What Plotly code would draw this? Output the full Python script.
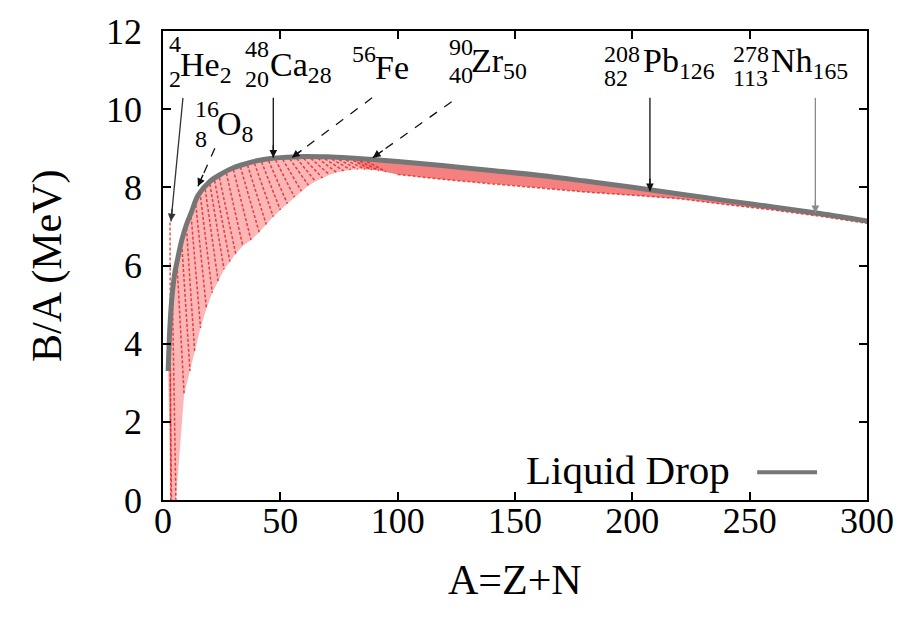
import plotly.graph_objects as go
import math

# ---------------- data ----------------
# Liquid-drop B/A curve (grey)
curve_A = [2.2, 3, 4, 5, 6, 8, 10, 12, 15, 20, 25, 30, 35, 40, 45, 50, 60, 70, 80, 90,
           100, 120, 140, 160, 180, 200, 220, 240, 260, 280, 300]
curve_B = [3.3, 4.5, 5.3, 5.8, 6.1, 6.65, 7.05, 7.35, 7.8, 8.15, 8.35, 8.5, 8.6, 8.68, 8.73, 8.76,
           8.79, 8.78, 8.75, 8.71, 8.66, 8.55, 8.43, 8.31, 8.16, 8.0, 7.83, 7.66, 7.5, 7.33, 7.14]

# red isotopic chains (start near the curve, end at the lower edge of the fan)
chain_A_top = [3, 3, 4, 6, 8, 10, 12, 14, 16, 18, 20, 22, 24, 27, 30, 33, 36, 39, 42, 45, 48,
               51, 54, 57, 60, 63, 66, 69, 72, 75, 78, 81, 84, 87]
chain_B_top = [7.1, 3.6, 5.3, 6.0, 6.55, 6.95, 7.25, 7.55, 7.75, 7.95, 8.08, 8.17, 8.25, 8.36,
               8.45, 8.52, 8.57, 8.61, 8.65, 8.68, 8.7, 8.72, 8.73, 8.74, 8.74, 8.74, 8.74,
               8.73, 8.72, 8.71, 8.7, 8.69, 8.67, 8.66]
chain_A_bot = [3.3, 3.6, 5.5, 9, 11.5, 13.5, 16, 18.5, 21, 23.5, 26, 28.5, 31, 34, 37.5, 41, 44,
               47, 50, 53, 56, 59, 62, 65, 68, 71, 74, 77, 80, 83, 86, 89, 92, 95]
chain_B_bot = [0.0, 0.0, 0.0, 2.7, 3.3, 3.8, 4.4, 4.9, 5.3, 5.6, 5.9, 6.1, 6.3, 6.5, 6.65, 6.85,
               7.05, 7.25, 7.42, 7.58, 7.75, 7.9, 8.05, 8.15, 8.24, 8.32, 8.38, 8.42, 8.45,
               8.46, 8.46, 8.45, 8.43, 8.4]

# lower edge of the dense red band for heavier nuclei
band_A = [100, 120, 140, 160, 180, 200, 220, 240, 260, 280, 300]
band_B = [8.33, 8.2, 8.09, 7.99, 7.88, 7.8, 7.71, 7.56, 7.42, 7.26, 7.08]

# labelled nuclei
nuc_el = ["He", "O", "Ca", "Fe", "Zr", "Pb", "Nh"]
nuc_mass = ["4", "16", "48", "56", "90", "208", "278"]
nuc_Z = ["2", "8", "20", "", "40", "82", "113"]
nuc_N = ["2", "8", "28", "", "50", "126", "165"]
arrow_tail_A = [8.5, 22.1, 47, 89.1, 123.0, 207.5, 278]
arrow_tail_B = [10.29, 9.0, 10.29, 10.29, 10.19, 10.29, 10.29]
arrow_tip_A = [3.4, 14.9, 47, 54.9, 89.4, 207.5, 278]
arrow_tip_B = [7.13, 8.03, 8.76, 8.76, 8.76, 7.90, 7.34]
arrow_dash = ["solid", "dash", "solid", "dash", "dash", "solid", "solid"]
arrow_color = ["#333333", "#111111", "#111111", "#111111", "#111111", "#111111", "#8a8a8a"]

x_ticks = [0, 50, 100, 150, 200, 250, 300]
y_ticks = [0, 2, 4, 6, 8, 10, 12]

# label placement (data coordinates)
lab_x_pre = [1.7, 12.8, 34.0, 79.6, 120.9, 187.2, 242.1]
lab_x_el = [6.4, 22.1, 44.7, 89.4, 130.6, 203.8, 258.3]
lab_y_sup = [11.59, 9.94, 11.46, 11.34, 11.52, 11.34, 11.34]
lab_y_sub = [10.75, 9.22, 10.75, 10.75, 10.85, 10.78, 10.78]
lab_y_el = [10.89, 9.40, 10.89, 10.96, 11.0, 10.99, 10.99]

FONT = "Liberation Serif"
W, H = 921, 617
ML, MR, MT, MB = 163, 54, 29, 117
PW, PH = W - ML - MR, H - MT - MB
SX, SY = PW / 300.0, PH / 12.0

fig = go.Figure()

# red region: fan at low A plus thin band at high A (single polygon)
lower_x = chain_A_bot + band_A
lower_y = chain_B_bot + band_B
poly_x = list(curve_A) + lower_x[::-1]
poly_y = list(curve_B) + lower_y[::-1]
fig.add_trace(go.Scatter(x=poly_x, y=poly_y, mode="lines", fill="toself",
                         fillcolor="rgba(248,80,80,0.42)", line=dict(width=0),
                         hoverinfo="skip", showlegend=False))

# denser overlay on the heavy band
hx = [a for a in curve_A if a >= 80] + ([a for a in chain_A_bot if a >= 86] + band_A)[::-1]
hy = [b for a, b in zip(curve_A, curve_B) if a >= 80] + \
     ([b for a, b in zip(chain_A_bot, chain_B_bot) if a >= 86] + band_B)[::-1]
fig.add_trace(go.Scatter(x=hx, y=hy, mode="lines", fill="toself",
                         fillcolor="rgba(230,30,30,0.35)", line=dict(width=0),
                         hoverinfo="skip", showlegend=False))

# chains
cx, cy = [], []
for a0, b0, a1, b1 in zip(chain_A_top, chain_B_top, chain_A_bot, chain_B_bot):
    cx += [a0, a1, None]
    cy += [b0, b1, None]
fig.add_trace(go.Scatter(x=cx, y=cy, mode="lines",
                         line=dict(color="rgba(225,20,20,0.75)", width=1.5, dash="3px,2px"),
                         hoverinfo="skip", showlegend=False))

# darker dotted edge along the heavy band
fig.add_trace(go.Scatter(x=band_A, y=band_B, mode="lines",
                         line=dict(color="rgba(225,20,20,0.7)", width=1.5, dash="3px,2px"),
                         hoverinfo="skip", showlegend=False))

# liquid drop curve
fig.add_trace(go.Scatter(x=curve_A, y=curve_B, mode="lines", name="Liquid Drop",
                         line=dict(color="rgb(118,118,118)", width=5, shape="spline"),
                         showlegend=False))

shapes = []
annotations = []

# arrows
for ta, tb, pa, pb, d, c in zip(arrow_tail_A, arrow_tail_B, arrow_tip_A, arrow_tip_B,
                                arrow_dash, arrow_color):
    shapes.append(dict(type="line", xref="x", yref="y", x0=ta, y0=tb, x1=pa, y1=pb,
                       line=dict(color=c, width=1.3, dash=d), layer="above"))
    dxp = (ta - pa) * SX
    dyp = -(tb - pb) * SY
    L = math.hypot(dxp, dyp)
    annotations.append(dict(x=pa, y=pb, xref="x", yref="y", text="", showarrow=True,
                            ax=dxp / L * 14, ay=dyp / L * 14, arrowhead=2, arrowsize=1.1,
                            arrowwidth=1.4, arrowcolor=c, standoff=0))

# nuclide labels
for i in range(len(nuc_el)):
    txt = nuc_el[i] + ("<sub>%s</sub>" % nuc_N[i] if nuc_N[i] else "")
    annotations.append(dict(x=lab_x_el[i], y=lab_y_el[i], xref="x", yref="y", text=txt,
                            showarrow=False, xanchor="left", yanchor="middle",
                            yshift=7 if nuc_N[i] else 4,
                            font=dict(family=FONT, size=34, color="black")))
    annotations.append(dict(x=lab_x_pre[i], y=lab_y_sup[i], xref="x", yref="y",
                            text=nuc_mass[i], showarrow=False, xanchor="left",
                            yanchor="middle", yshift=3,
                            font=dict(family=FONT, size=24, color="black")))
    if nuc_Z[i]:
        annotations.append(dict(x=lab_x_pre[i], y=lab_y_sub[i], xref="x", yref="y",
                                text=nuc_Z[i], showarrow=False, xanchor="left",
                                yanchor="middle", yshift=1,
                                font=dict(family=FONT, size=24, color="black")))

# legend (text left, sample line right)
annotations.append(dict(x=242.6, y=0.76, xref="x", yref="y", text="Liquid Drop",
                        showarrow=False, xanchor="right", yanchor="middle",
                        font=dict(family=FONT, size=41, color="black")))
shapes.append(dict(type="line", xref="x", yref="y", x0=253.2, x1=278.7, y0=0.71, y1=0.71,
                   line=dict(color="rgb(118,118,118)", width=4)))

# axis titles
annotations.append(dict(x=(48 - ML) / PW, y=(MT + PH - 265) / PH, xref="paper", yref="paper",
                        text="B/A (MeV)", textangle=-90, showarrow=False,
                        xanchor="center", yanchor="middle",
                        font=dict(family=FONT, size=42, color="black")))
annotations.append(dict(x=(515 - ML) / PW, y=(MT + PH - 580) / PH, xref="paper", yref="paper",
                        text="A=Z+N", showarrow=False, xanchor="center", yanchor="middle",
                        font=dict(family=FONT, size=42, color="black")))

axis_common = dict(showgrid=False, zeroline=False, showline=True, linecolor="black",
                   linewidth=1.5, mirror="ticks", ticks="inside", ticklen=8, tickwidth=1.5,
                   tickcolor="black", tickfont=dict(family=FONT, size=36, color="black"))

fig.update_layout(
    width=W, height=H, margin=dict(l=ML, r=MR, t=MT, b=MB),
    paper_bgcolor="white", plot_bgcolor="white", showlegend=False,
    font=dict(family=FONT, color="black"),
    xaxis=dict(range=[0, 300], tickvals=x_ticks, ticktext=[str(v) for v in x_ticks],
               ticklabelstandoff=-12, **axis_common),
    yaxis=dict(range=[0, 12], tickvals=y_ticks, ticktext=[str(v) for v in y_ticks],
               ticklabelstandoff=12, **axis_common),
    shapes=shapes, annotations=annotations,
)

fig.write_html("out.html")
